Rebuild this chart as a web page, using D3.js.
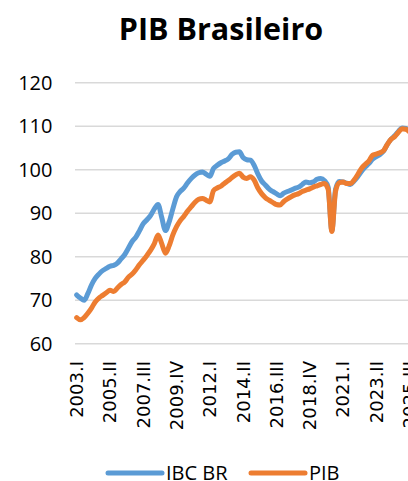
<!DOCTYPE html>
<html>
<head>
<meta charset="utf-8">
<script src="https://cdn.jsdelivr.net/npm/d3@7"></script>
<style>
  html, body { margin: 0; padding: 0; background: #fff; overflow: hidden; }
  svg { display: block; font-family: "Open Sans", "Liberation Sans", sans-serif; }
</style>
</head>
<body>
<svg id="chart" width="408" height="481"></svg>
<script>
// quarters 2003.I .. 2025.III
const ROMAN = ["I", "II", "III", "IV"];
const quarters = [];
for (let y = 2003; y <= 2025; y++) {
  for (let q = 0; q < 4; q++) {
    if (y === 2025 && q > 2) break;
    quarters.push(`${y}.${ROMAN[q]}`);
  }
}

// IBC-Br (quarterly avg, rebased)
const ibcbr = [
  71.2, 70.5, 70.0, 71.5, 73.5, 75.0, 76.0, 76.8, 77.3, 77.8,
  78.0, 78.5, 79.5, 80.5, 82.0, 83.5, 84.5, 86.0, 87.6, 88.5,
  89.5, 91.0, 92.0, 89.0, 86.0, 88.0, 91.0, 93.8, 95.0, 95.8,
  97.0, 98.0, 98.8, 99.3, 99.5, 99.0, 98.5, 100.3, 101.0, 101.6,
  102.0, 102.5, 103.5, 104.0, 104.1, 102.8, 102.3, 102.2, 101.0, 99.0,
  97.4, 96.5, 95.6, 95.0, 94.5, 94.0, 94.6, 95.0, 95.3, 95.7,
  96.0, 96.6, 97.2, 97.0, 97.2, 97.8, 98.0, 97.5, 96.0, 86.0,
  95.5, 97.3, 97.2, 96.9, 96.6, 97.4, 98.4, 99.6, 100.6, 101.4,
  102.4, 103.0, 103.5, 104.3, 105.8, 107.0, 107.8, 108.8, 109.6, 109.5,
  108.9
];

// PIB (quarterly, seasonally adjusted, rebased)
const pib = [
  66.0, 65.5, 66.0, 67.0, 68.2, 69.6, 70.5, 71.1, 71.7, 72.3,
  72.0, 72.8, 73.6, 74.2, 75.3, 76.0, 77.0, 78.2, 79.2, 80.3,
  81.5, 83.0, 85.0, 83.0, 80.8, 82.5, 85.0, 86.9, 88.3, 89.3,
  90.5, 91.5, 92.5, 93.2, 93.4, 93.0, 92.6, 95.2, 95.8, 96.2,
  96.9, 97.5, 98.2, 98.8, 99.2, 98.3, 98.0, 98.4, 97.6, 95.8,
  94.5, 93.6, 93.0, 92.5, 92.0, 91.9, 92.7, 93.3, 93.8, 94.2,
  94.5, 95.0, 95.3, 95.6, 96.0, 96.3, 96.6, 96.8, 95.5, 85.8,
  95.0, 97.0, 97.2, 96.8, 96.8, 97.6, 98.9, 100.3, 101.2, 102.0,
  103.3, 103.6, 103.9, 104.4, 105.8, 107.0, 107.6, 108.6, 109.4, 109.3,
  108.7
];

const yTicks = [60, 70, 80, 90, 100, 110, 120];

const series = [
  { name: "IBC BR", values: ibcbr, color: "#5B9BD5" },
  { name: "PIB",    values: pib,   color: "#ED7D31" }
];

const svg = d3.select("#chart");

const x = d3.scalePoint().domain(quarters).range([76.7, 409.5]);
const y = d3.scaleLinear().domain([60, 120]).range([343.7, 82.7]);

// title
svg.append("text")
  .attr("x", 221).attr("y", 40)
  .attr("text-anchor", "middle")
  .attr("font-size", 30.5).attr("font-weight", "bold")
  .attr("fill", "#000")
  .text("PIB Brasileiro");

// gridlines + y labels
const grid = svg.append("g");
grid.selectAll("line").data(yTicks).join("line")
  .attr("x1", 75).attr("x2", 420)
  .attr("y1", d => y(d)).attr("y2", d => y(d))
  .attr("stroke", "#D9D9D9").attr("stroke-width", 1.5);

svg.append("g").selectAll("text").data(yTicks).join("text")
  .attr("x", 52.5).attr("y", d => y(d))
  .attr("dy", "0.36em")
  .attr("text-anchor", "end")
  .attr("font-size", 20).attr("fill", "#000")
  .text(d => d);

// x labels (every 9th quarter), rotated
const xLabels = quarters.filter((d, i) => i % 9 === 0);
svg.append("g").selectAll("text").data(xLabels).join("text")
  .attr("transform", d => `translate(${x(d)},361) rotate(-90)`)
  .attr("dy", "0.36em")
  .attr("text-anchor", "end")
  .attr("font-family", "'DejaVu Sans', sans-serif")
  .attr("font-size", 18).attr("fill", "#000")
  .text(d => d);

// lines
const line = d3.line()
  .x((d, i) => x(quarters[i]))
  .y(d => y(d))
  .curve(d3.curveMonotoneX);

svg.append("g").selectAll("path").data(series).join("path")
  .attr("d", d => line(d.values))
  .attr("fill", "none")
  .attr("stroke", d => d.color)
  .attr("stroke-width", 5)
  .attr("stroke-linejoin", "round")
  .attr("stroke-linecap", "round");

// legend
const legend = svg.append("g");
const lx = [108, 251];
series.forEach((s, i) => {
  legend.append("line")
    .attr("x1", lx[i]).attr("x2", lx[i] + 54)
    .attr("y1", 473).attr("y2", 473)
    .attr("stroke", s.color).attr("stroke-width", 5)
    .attr("stroke-linecap", "round");
  legend.append("text")
    .attr("x", lx[i] + 58).attr("y", 479.5)
    .attr("font-size", 20).attr("fill", "#000")
    .text(s.name);
});
</script>
</body>
</html>
